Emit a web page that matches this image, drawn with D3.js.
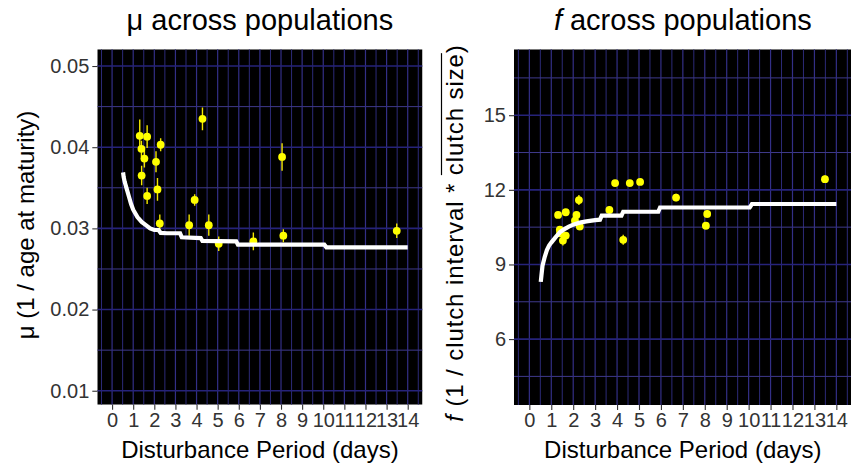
<!DOCTYPE html>
<html lang="en">
<head>
<meta charset="UTF-8">
<script src="https://cdnjs.cloudflare.com/ajax/libs/d3/7.9.0/d3.min.js"></script>
<title>mu and f across populations</title>
<style>
    body { margin: 0; padding: 0; background: #fff; }
    svg { display: block; font-family: "Liberation Sans", Arial, sans-serif; }
</style>
</head>
<body>
<div id="chart"></div>
<script>
// populations (disturbance period, days)
const period = [1.31, 1.39, 1.40, 1.53, 1.66, 1.66, 2.08, 2.15, 2.26, 2.30,
                3.65, 3.91, 4.28, 4.58, 5.05, 6.69, 8.05, 8.11, 13.48];
const muMean = [0.0414, 0.0398, 0.0365, 0.0386, 0.0413, 0.0340, 0.0382, 0.0348, 0.0306, 0.0403,
                0.0304, 0.0335, 0.0435, 0.0304, 0.0281, 0.0284, 0.0388, 0.0291, 0.0297];
const muSE   = [0.0020, 0.0010, 0.0012, 0.0011, 0.0014, 0.0010, 0.0013, 0.0014, 0.0011, 0.0008,
                0.0013, 0.0007, 0.0014, 0.0013, 0.0009, 0.0011, 0.0017, 0.0008, 0.0009];
const fMean  = [10.99, 10.40, 10.25, 9.96, 11.10, 10.16, 10.76, 10.99, 11.59, 10.53,
                11.19, 12.27, 9.99, 12.27, 12.32, 11.69, 10.56, 11.03, 12.43];
const fSE    = [0.12, 0.15, 0.15, 0.20, 0.12, 0.15, 0.15, 0.12, 0.20, 0.15,
                0.15, 0.10, 0.20, 0.12, 0.12, 0.15, 0.15, 0.15, 0.15];

// model fit
const fitPeriod = [0.52, 0.55, 0.6, 0.7, 0.8, 0.9, 1.0, 1.2, 1.4, 1.6, 1.8, 2.0, 2.2, 2.3, 2.6, 3.0,
                   3.22, 3.3, 4.2, 4.28, 5.88, 5.96, 10.05, 10.15, 14];
const muFit = [0.0369, 0.0363, 0.0357, 0.0348, 0.0339, 0.0330, 0.0323, 0.0314, 0.0308, 0.0304,
               0.0300, 0.0298, 0.0298, 0.02945, 0.0294, 0.0294,
               0.0294, 0.0289, 0.0288, 0.02845, 0.0284, 0.0280, 0.0280, 0.02767, 0.02767];
const fFit  = [8.3, 8.55, 8.95, 9.3, 9.58, 9.76, 9.88, 10.1, 10.3, 10.42, 10.52, 10.6, 10.66, 10.68,
               10.73, 10.78, 10.8, 10.96, 10.96, 11.12, 11.12, 11.29, 11.29, 11.43, 11.43];

// ticks
const xTicks = d3.range(0, 15);
const muTicks = [0.01, 0.02, 0.03, 0.04, 0.05];
const fTicks = [6, 9, 12, 15];

const W = 851, H = 467;
const svg = d3.select("#chart").append("svg").attr("width", W).attr("height", H);

function minorOf(ticks, domain) {
    const step = ticks[1] - ticks[0];
    const out = [];
    for (let v = ticks[0] - step / 2; v <= domain[1]; v += step) {
        if (v >= domain[0]) out.push(v);
    }
    return out;
}

function drawPanel(opts) {
    const x = d3.scaleLinear().domain([-0.7, 14.7]).range([opts.left, opts.right]);
    const y = d3.scaleLinear().domain(opts.yDomain).range([opts.bottom, opts.top]);
    const g = svg.append("g");

    g.append("clipPath").attr("id", opts.id + "-clip")
        .append("rect")
        .attr("x", opts.left).attr("y", opts.top)
        .attr("width", opts.right - opts.left).attr("height", opts.bottom - opts.top);

    const panel = g.append("g").attr("clip-path", `url(#${opts.id}-clip)`);
    panel.append("rect")
        .attr("x", opts.left).attr("y", opts.top)
        .attr("width", opts.right - opts.left).attr("height", opts.bottom - opts.top)
        .attr("fill", "#000");

    // grid
    const xMinor = minorOf(xTicks, x.domain());
    const yMinor = minorOf(opts.yTicks, y.domain());
    panel.selectAll(".vminor").data(xMinor).join("line")
        .attr("x1", d => x(d)).attr("x2", d => x(d))
        .attr("y1", opts.top).attr("y2", opts.bottom)
        .attr("stroke", "#2c2a78").attr("stroke-width", 1);
    panel.selectAll(".hminor").data(yMinor).join("line")
        .attr("y1", d => y(d)).attr("y2", d => y(d))
        .attr("x1", opts.left).attr("x2", opts.right)
        .attr("stroke", "#3f3a8c").attr("stroke-width", 1);
    panel.selectAll(".vmajor").data(xTicks).join("line")
        .attr("x1", d => x(d)).attr("x2", d => x(d))
        .attr("y1", opts.top).attr("y2", opts.bottom)
        .attr("stroke", "#332f86").attr("stroke-width", 1.2);
    panel.selectAll(".hmajor").data(opts.yTicks).join("line")
        .attr("y1", d => y(d)).attr("y2", d => y(d))
        .attr("x1", opts.left).attr("x2", opts.right)
        .attr("stroke", "#26237a").attr("stroke-width", 1.6);

    // error bars and points
    panel.selectAll(".err").data(period).join("line")
        .attr("x1", d => x(d)).attr("x2", d => x(d))
        .attr("y1", (d, i) => y(opts.mean[i] - opts.se[i]))
        .attr("y2", (d, i) => y(opts.mean[i] + opts.se[i]))
        .attr("stroke", "#f2e600").attr("stroke-width", 1.4);
    panel.selectAll(".pt").data(period).join("circle")
        .attr("cx", d => x(d))
        .attr("cy", (d, i) => y(opts.mean[i]))
        .attr("r", 3.9)
        .attr("fill", "#ffff00");

    // fitted curve
    const line = d3.line().x(d => x(d[0])).y(d => y(d[1]));
    panel.append("path")
        .datum(fitPeriod.map((p, i) => [p, opts.fit[i]]))
        .attr("d", line)
        .attr("fill", "none")
        .attr("stroke", "#fff")
        .attr("stroke-width", 4.2);

    // axes
    const xAxis = d3.axisBottom(x).tickValues(xTicks).tickSize(5).tickPadding(3);
    const ax = g.append("g").attr("transform", `translate(0,${opts.bottom})`).call(xAxis);
    const yAxis = d3.axisLeft(y).tickValues(opts.yTicks).tickSize(5).tickPadding(3).tickFormat(opts.fmt);
    const ay = g.append("g").attr("transform", `translate(${opts.left},0)`).call(yAxis);
    [ax, ay].forEach(a => {
        a.select(".domain").remove();
        a.selectAll(".tick line").attr("stroke", "#333").attr("stroke-width", 1.1);
        a.selectAll(".tick text").attr("fill", "#333")
            .style("font-size", "20px").style("font-family", "'Liberation Sans', Arial, sans-serif");
    });

    // title
    const cx = (opts.left + opts.right) / 2;
    const t = g.append("text").attr("x", cx).attr("y", 30)
        .attr("text-anchor", "middle").style("font-size", "29px").attr("fill", "#000");
    t.append("tspan").style("font-style", opts.symItalic ? "italic" : "normal").text(opts.sym);
    t.append("tspan").text(" across populations");

    // x title
    g.append("text").attr("x", cx).attr("y", 458)
        .attr("text-anchor", "middle").style("font-size", "24px").attr("fill", "#000")
        .text("Disturbance Period (days)");

    return { x, y, g };
}

drawPanel({
    id: "mu", left: 97.3, right: 422.5, top: 49.3, bottom: 404.7,
    yDomain: [0.00828, 0.05206], yTicks: muTicks, fmt: d3.format(".2f"),
    mean: muMean, se: muSE, fit: muFit, sym: "\u03bc", symItalic: false
});

drawPanel({
    id: "f", left: 514, right: 851.7, top: 49.3, bottom: 405,
    yDomain: [3.35, 17.65], yTicks: fTicks, fmt: d3.format("d"),
    mean: fMean, se: fSE, fit: fFit, sym: "f", symItalic: true
});

// y titles
const ylabL = svg.append("g").attr("transform", "translate(34,225) rotate(-90)");
ylabL.append("text").attr("text-anchor", "middle").style("font-size", "24px").attr("fill", "#000")
    .text("\u03bc (1 / age at maturity)");

const ylabR = svg.append("g").attr("transform", "translate(463,233) rotate(-90)");
const tR = ylabR.append("text").attr("text-anchor", "middle").style("font-size", "24px")
    .style("letter-spacing", "0.9px").attr("fill", "#000");
tR.append("tspan").style("font-style", "italic").text("f");
tR.append("tspan").text(" (1 / clutch interval * ");
const over = tR.append("tspan").text("clutch size");
tR.append("tspan").text(")");
const ob = over.node().getBBox();
ylabR.append("line")
    .attr("x1", ob.x).attr("x2", ob.x + ob.width)
    .attr("y1", ob.y + 0.5).attr("y2", ob.y + 0.5)
    .attr("stroke", "#000").attr("stroke-width", 1.2);
</script>
</body>
</html>
